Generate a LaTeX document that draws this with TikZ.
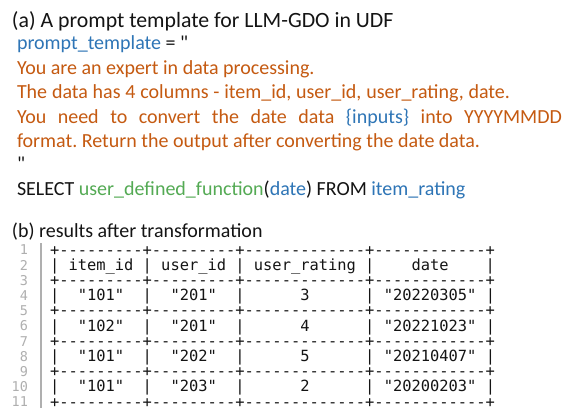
\documentclass[tikz,border=0pt]{standalone}
\usepackage{fontspec}
\setmainfont{Carlito}[Ligatures=TeXOff]
\setmonofont{DejaVu Sans Mono}
\frenchspacing
\definecolor{cblue}{RGB}{46,117,182}
\definecolor{corange}{RGB}{197,90,17}
\definecolor{cgreen}{RGB}{84,170,84}
\definecolor{cgray}{RGB}{175,175,175}
\definecolor{ctext}{RGB}{20,20,20}
\tikzset{
  txt/.style={anchor=base west, inner sep=0pt, outer sep=0pt, text=ctext, font=\fontsize{20}{24}\selectfont},
  ttl/.style={txt, font=\fontsize{21.8}{24}\selectfont},
  otxt/.style={txt, text=corange},
  tab/.style={anchor=base west, inner sep=0pt, outer sep=0pt, text=ctext, font=\ttfamily\fontsize{15.4}{15.5}\selectfont},
  lnum/.style={anchor=base east, inner sep=0pt, outer sep=0pt, text=cgray, font=\ttfamily\fontsize{13.5}{15.5}\selectfont},
}
\begin{document}
\begin{tikzpicture}[x=1pt,y=-1pt]
\useasboundingbox (0,0) rectangle (574,408);
\clip (0,0) rectangle (574,408);
\fill[white] (0,0) rectangle (574,408);
% (a) prompt template
\node[ttl] (t1) at (12,27) {(a) A prompt template for LLM-GDO in UDF};
\node[txt] (t2) at (17,49) {{\color{cblue}prompt\_template} = "};
\node[otxt] (t3) at (17,74) {You are an expert in data processing.};
\node[otxt] (t4) at (17,98) {\makebox[493pt][s]{The data has 4 columns - item\_id, user\_id, user\_rating, date.}};
\node[otxt] (t5) at (17,123) {\makebox[545pt][s]{You need to convert the date data {\color{cblue}\{inputs\}} into YYYYMMDD}};
\node[otxt] (t6) at (17,147) {format. Return the output after converting the date data.};
\node[txt] (t7) at (17,170) {"};
\node[txt] (t8) at (17,195) {SELECT {\color{cgreen}user\_defined\_function}({\color{cblue}date}) FROM {\color{cblue}item\_rating}};
% (b) results
\node[txt] (t9) at (12,237) {(b) results after transformation};
% gutter
\draw[cgray, line width=1.2pt] (41,243) coordinate (g1) -- (41,408) coordinate (g2);
\foreach \n in {1,...,11} {
  \node[lnum] (ln\n) at (28,{250+4.8+15.2*(\n-1)}) {\n};
}
% table lines
\def\rl{+---------+---------+-------------+------------+}
\node[tab] (r1) at (50,255) {\rl};
\node[tab] (r2) at (50,270.2) {|~item\_id~|~user\_id~|~user\_rating~|~~~~date~~~~|};
\node[tab] (r3) at (50,285.4) {\rl};
\node[tab] (r4) at (50,300.6) {|~~"101"~~|~~"201"~~|~~~~~~3~~~~~~|~"20220305"~|};
\node[tab] (r5) at (50,315.8) {\rl};
\node[tab] (r6) at (50,331) {|~~"102"~~|~~"201"~~|~~~~~~4~~~~~~|~"20221023"~|};
\node[tab] (r7) at (50,346.2) {\rl};
\node[tab] (r8) at (50,361.4) {|~~"101"~~|~~"202"~~|~~~~~~5~~~~~~|~"20210407"~|};
\node[tab] (r9) at (50,376.6) {\rl};
\node[tab] (r10) at (50,391.8) {|~~"101"~~|~~"203"~~|~~~~~~2~~~~~~|~"20200203"~|};
\node[tab] (r11) at (50,407) {\rl};
\end{tikzpicture}
\end{document}
